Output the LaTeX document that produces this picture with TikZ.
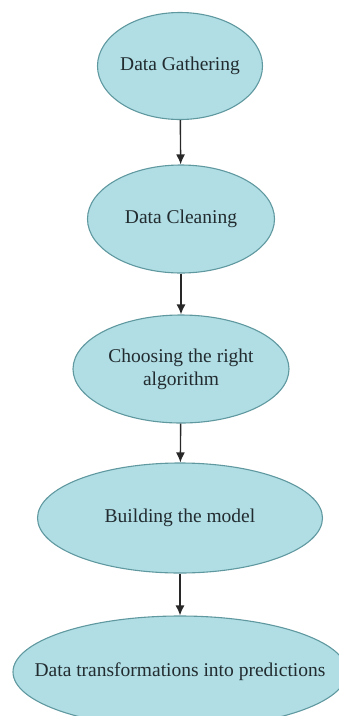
\documentclass[tikz,border=0pt]{standalone}
\usepackage{fontspec}
\setmainfont{Liberation Serif}
\usetikzlibrary{shapes.geometric,arrows.meta}
\definecolor{stagefill}{RGB}{176,222,228}
\definecolor{stageline}{RGB}{96,152,160}
\definecolor{stagetext}{RGB}{34,44,48}
\definecolor{flowline}{RGB}{40,40,40}

\begin{document}
\begin{tikzpicture}
        [x=1pt,y=-1pt,every node/.style={ellipse,draw=stageline,line width=1.1pt,fill=stagefill,text=stagetext,align=center,inner ysep=0pt,inner xsep=-40pt,font=\fontsize{19.5}{23}\selectfont}]
        % the page is 338 x 716, one unit is one pixel of the sketch, y runs downwards
        % inner xsep is negative so that minimum width alone fixes the size of each ellipse
        \useasboundingbox (0,0) rectangle (338,716);

        \node[minimum width=165pt,minimum height=107pt] (s1) at (180,66) {Data Gathering};
        \node[minimum width=187pt,minimum height=108pt] (s2) at (181,219) {Data Cleaning};
        \node[minimum width=216pt,minimum height=108pt] (s3) at (181,369) {Choosing the right\\algorithm};
        \node[minimum width=285pt,minimum height=110pt] (s4) at (180,518) {Building the model};
        \node[minimum width=334pt,minimum height=112pt] (s5) at (180,672) {Data transformations into predictions};

        % arrows from one stage to the next
        \draw[flowline,line width=1.4pt,-{Latex[length=10pt,width=9pt]}] (s1) -- (s2);
        \draw[flowline,line width=1.4pt,-{Latex[length=10pt,width=9pt]}] (s2) -- (s3);
        \draw[flowline,line width=1.4pt,-{Latex[length=10pt,width=9pt]}] (s3) -- (s4);
        \draw[flowline,line width=1.4pt,-{Latex[length=10pt,width=9pt]}] (s4) -- (s5);

      \end{tikzpicture}
\end{document}
